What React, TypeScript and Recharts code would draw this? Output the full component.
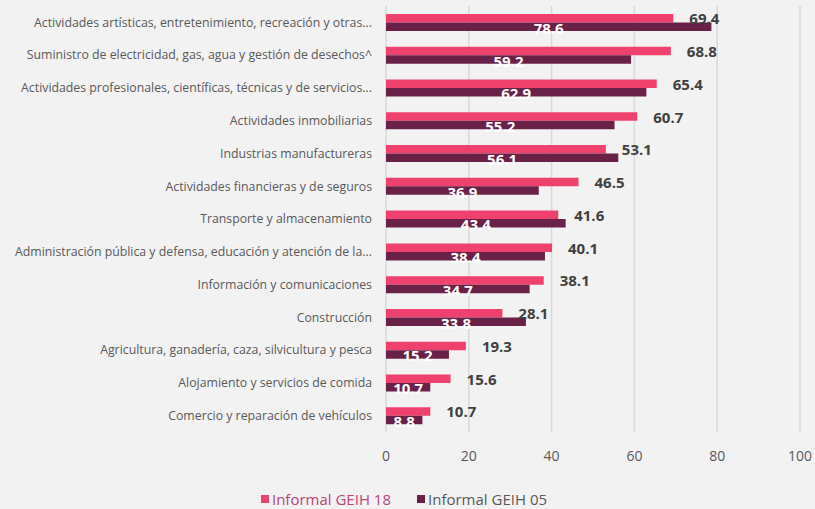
import { BarChart, Bar, XAxis, YAxis, CartesianGrid, LabelList, Legend } from 'recharts'

const categories = [
  'Actividades artísticas, entretenimiento, recreación y otras...',
  'Suministro de electricidad, gas, agua y gestión de desechos^',
  'Actividades profesionales, científicas, técnicas y de servicios...',
  'Actividades inmobiliarias',
  'Industrias manufactureras',
  'Actividades financieras y de seguros',
  'Transporte y almacenamiento',
  'Administración pública y defensa, educación y atención de la...',
  'Información y comunicaciones',
  'Construcción',
  'Agricultura, ganadería, caza, silvicultura y pesca',
  'Alojamiento y servicios de comida',
  'Comercio y reparación de vehículos',
]
const geih18 = [69.4, 68.8, 65.4, 60.7, 53.1, 46.5, 41.6, 40.1, 38.1, 28.1, 19.3, 15.6, 10.7]
const geih05 = [78.6, 59.2, 62.9, 55.2, 56.1, 36.9, 43.4, 38.4, 34.7, 33.8, 15.2, 10.7, 8.8]
const xTicks = [0, 20, 40, 60, 80, 100]

const PINK = '#EF416E'
const MAROON = '#6A2148'
const FONT = '"Open Sans", "Noto Sans", sans-serif'

const data = categories.map((name, i) => ({ name, g18: geih18[i], g05: geih05[i] }))

function PinkLabel(props: any) {
  const { x, y, width, height, value } = props
  return (
    <text
      x={x + width + 16}
      y={y + height / 2 + 2}
      fill="#404040"
      fontSize={15}
      fontWeight={700}
      fontFamily={FONT}
      dominantBaseline="middle"
    >
      {value}
    </text>
  )
}

function MaroonLabel(props: any) {
  const { x, y, width, height, value } = props
  return (
    <text
      x={x + width / 2}
      y={y + height / 2 + 3}
      fill="#ffffff"
      fontSize={15}
      fontWeight={700}
      fontFamily={FONT}
      textAnchor="middle"
      dominantBaseline="middle"
    >
      {value}
    </text>
  )
}

// single-line category label, no wrapping
function CategoryTick(props: any) {
  const { x, y, payload } = props
  return (
    <text
      x={x - 6}
      y={y + 1}
      fill="#595959"
      fontSize={12.3}
      fontFamily={FONT}
      textAnchor="end"
      dominantBaseline="middle"
    >
      {payload.value}
    </text>
  )
}

function LegendContent() {
  const items = [
    { label: 'Informal GEIH 18', color: PINK, text: '#B8477A' },
    { label: 'Informal GEIH 05', color: MAROON, text: '#595959' },
  ]
  return (
    <div style={{ display: 'flex', justifyContent: 'center', gap: 26, fontFamily: FONT, fontSize: 15, paddingLeft: 8 }}>
      {items.map((it) => (
        <div key={it.label} style={{ display: 'flex', alignItems: 'center', color: it.text }}>
          <span style={{ width: 8, height: 8, background: it.color, display: 'inline-block', marginRight: 3 }} />
          {it.label}
        </div>
      ))}
    </div>
  )
}

export default function App() {
  return (
    <div style={{ width: 815, height: 509, background: '#F2F2F2' }}>
      <style>{'body{margin:0}'}</style>
      <BarChart
        width={815}
        height={509}
        data={data}
        layout="vertical"
        margin={{ top: 6, right: 15, left: 0, bottom: 0 }}
        barGap={0}
        barSize={8.5}
      >
        <CartesianGrid horizontal={false} stroke="#D9D9D9" strokeWidth={1.5} />
        <XAxis
          type="number"
          domain={[0, 100]}
          ticks={xTicks}
          axisLine={false}
          tickLine={false}
          tickMargin={13}
          height={57}
          tick={{ fill: '#595959', fontSize: 14, fontFamily: FONT }}
        />
        <YAxis
          type="category"
          dataKey="name"
          width={386}
          axisLine={false}
          tickLine={false}
          interval={0}
          tick={<CategoryTick />}
        />
        <Legend verticalAlign="bottom" height={20} content={<LegendContent />} />
        <Bar dataKey="g18" name="Informal GEIH 18" fill={PINK} isAnimationActive={false}>
          <LabelList dataKey="g18" content={<PinkLabel />} />
        </Bar>
        <Bar dataKey="g05" name="Informal GEIH 05" fill={MAROON} isAnimationActive={false}>
          <LabelList dataKey="g05" content={<MaroonLabel />} />
        </Bar>
      </BarChart>
    </div>
  )
}
